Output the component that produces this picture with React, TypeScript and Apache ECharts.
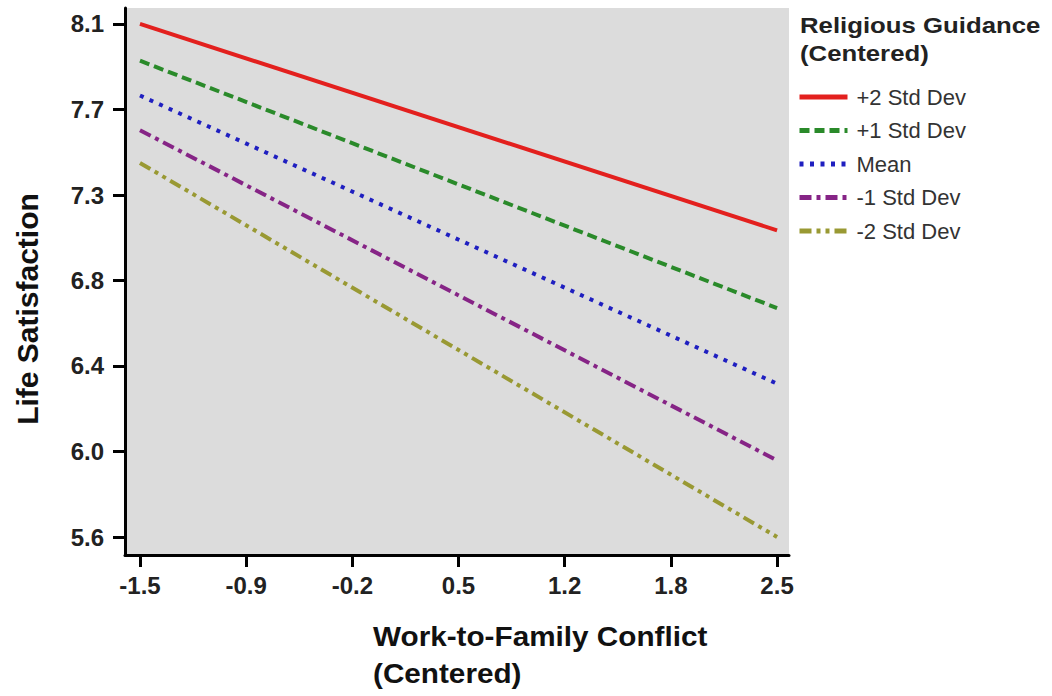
import React, { useEffect, useRef } from "react";
import * as echarts from "echarts";

const xValues = [-1.5, 2.5];
const plus2 = [8.09, 7.08];
const plus1 = [7.91, 6.7];
const meanVals = [7.74, 6.33];
const minus1 = [7.57, 5.955];
const minus2 = [7.41, 5.58];

const seriesNames = ["+2 Std Dev", "+1 Std Dev", "Mean", "-1 Std Dev", "-2 Std Dev"];
const seriesData = [plus2, plus1, meanVals, minus1, minus2];
const seriesColors = ["#e3201e", "#2a8a2a", "#1f1fc0", "#862486", "#999933"];
const seriesDash: any[] = ["solid", [10, 5], [4, 6.5], [12, 5, 4, 5], [12, 5, 4, 5, 4, 5]];

const xTickValues = [-1.5, -0.8333, -0.1667, 0.5, 1.1667, 1.8333, 2.5];
const xTickLabels = ["-1.5", "-0.9", "-0.2", "0.5", "1.2", "1.8", "2.5"];
const yTickValues = [5.58, 5.998, 6.417, 6.835, 7.253, 7.672, 8.09];
const yTickLabels = ["5.6", "6.0", "6.4", "6.8", "7.3", "7.7", "8.1"];

const FONT = "Arial, 'Liberation Sans', sans-serif";

export default function App() {
  const ref = useRef<HTMLDivElement>(null);
  useEffect(() => {
    if (!ref.current) return;
    const chart = echarts.init(ref.current, undefined, { renderer: "svg" });
    const labelFor = (vals: number[], labels: string[]) => (v: number) => {
      let best = 0;
      vals.forEach((t, i) => {
        if (Math.abs(t - v) < Math.abs(vals[best] - v)) best = i;
      });
      return labels[best];
    };
    chart.setOption({
      animation: false,
      grid: {
        left: 125,
        top: 8,
        right: 263,
        bottom: 141,
        show: true,
        backgroundColor: "#dcdcdc",
        borderWidth: 0,
      },
      xAxis: {
        type: "value",
        min: -1.594,
        max: 2.575,
        splitLine: { show: false },
        axisLine: { show: true, onZero: false, lineStyle: { color: "#000", width: 3 } },
        axisTick: {
          show: true,
          customValues: xTickValues,
          length: 12,
          lineStyle: { color: "#000", width: 3 },
        },
        axisLabel: {
          customValues: xTickValues,
          formatter: labelFor(xTickValues, xTickLabels),
          margin: 18,
          fontSize: 24,
          fontWeight: "bold",
          color: "#222",
          fontFamily: FONT,
        },
      },
      yAxis: {
        type: "value",
        min: 5.492,
        max: 8.168,
        splitLine: { show: false },
        axisLine: { show: true, onZero: false, lineStyle: { color: "#000", width: 3 } },
        axisTick: {
          show: true,
          customValues: yTickValues,
          length: 12,
          lineStyle: { color: "#000", width: 3 },
        },
        axisLabel: {
          customValues: yTickValues,
          formatter: labelFor(yTickValues, yTickLabels),
          margin: 21,
          fontSize: 24,
          fontWeight: "bold",
          color: "#222",
          fontFamily: FONT,
        },
      },
      legend: {
        orient: "vertical",
        left: 797,
        top: 86,
        padding: 0,
        itemWidth: 48,
        itemHeight: 14,
        itemGap: 11.5,
        itemStyle: { opacity: 0 },
        lineStyle: { width: 5 },
        textStyle: { fontSize: 22, color: "#333", fontFamily: FONT, padding: [0, 0, 0, 4] },
        data: seriesNames,
      },
      graphic: [
        {
          type: "text",
          x: 800,
          y: 11,
          scaleX: 1.12,
          style: {
            text: "Religious Guidance\n(Centered)",
            font: `bold 23px ${FONT}`,
            lineHeight: 28,
            fill: "#222",
          },
        },
        {
          type: "text",
          x: 373,
          y: 618,
          scaleX: 1.1,
          style: {
            text: "Work-to-Family Conflict\n(Centered)",
            font: `bold 27px ${FONT}`,
            lineHeight: 37,
            fill: "#111",
          },
        },
        {
          type: "text",
          x: 27,
          y: 309,
          rotation: Math.PI / 2,
          style: {
            text: "Life Satisfaction",
            font: `bold 30px ${FONT}`,
            align: "center",
            verticalAlign: "middle",
            fill: "#111",
          },
        },
      ],
      series: seriesNames.map((name, i) => ({
        name,
        type: "line",
        symbol: "none",
        data: xValues.map((x, j) => [x, seriesData[i][j]]),
        color: seriesColors[i],
        lineStyle: { width: 4, color: seriesColors[i], type: seriesDash[i], cap: "butt" },
      })),
    });
    return () => chart.dispose();
  }, []);
  return (
    <div
      ref={ref}
      style={{ position: "absolute", left: 0, top: 0, width: 1052, height: 696 }}
    />
  );
}
